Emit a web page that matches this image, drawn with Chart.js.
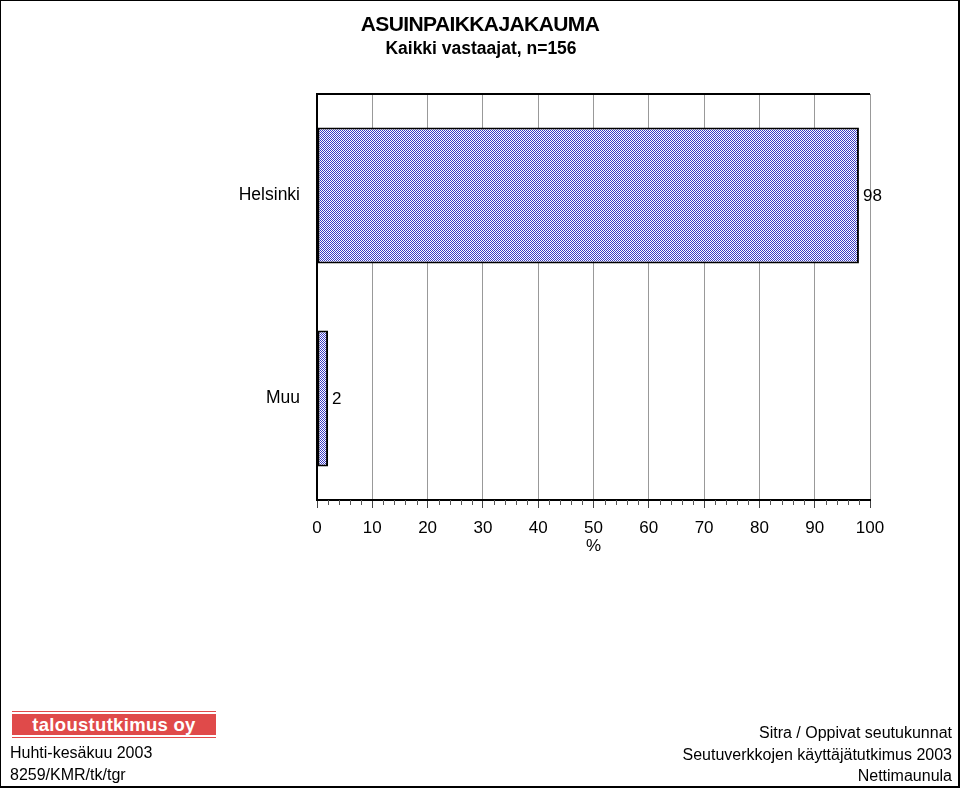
<!DOCTYPE html>
<html lang="fi">
<head>
    <meta charset="UTF-8">
    <title>Asuinpaikkajakauma</title>
    <script src="https://cdn.jsdelivr.net/npm/chart.js"></script>
    <style>
        body {
            margin: 0;
            font-family: "Liberation Sans", Arial, sans-serif;
        }
        #page {
            position: relative;
            width: 960px;
            height: 788px;
            overflow: hidden;
            background: #fff;
        }
        #frame {
            position: absolute;
            left: 0; top: 0;
            width: 957px; height: 785px;
            border: 1px solid #000;
            border-right-width: 2px;
            border-bottom-width: 2px;
            pointer-events: none;
        }
        canvas {
            position: absolute;
            left: 0;
            top: 0;
        }
        .txt {
            position: absolute;
            color: #000;
            font-size: 16px;
            white-space: nowrap;
        }
        #title {
            left: 0; width: 960px; top: 12px;
            text-align: center;
            font-size: 21px;
            font-weight: bold;
            letter-spacing: -0.6px;
        }
        #subtitle {
            left: 0; width: 962px; top: 38px;
            text-align: center;
            font-size: 17.5px;
            font-weight: bold;
        }
        #logo {
            position: absolute;
            left: 12px; top: 711px;
            width: 204px; height: 21px;
            border-top: 1px solid #e04a4a;
            border-bottom: 1px solid #e04a4a;
            padding: 2px 0;
        }
        #logo div {
            background: #e04a4a;
            color: #fff;
            height: 21px;
            line-height: 21px;
            text-align: center;
            font-weight: bold;
            font-size: 18.5px;
            letter-spacing: 0.3px;
        }
        .right {
            right: 8px;
            text-align: right;
        }
    </style>
    <script>
        // chart data
        const categories = ['Helsinki', 'Muu'];
        const shares = [98, 2];
        const xTicks = [0, 10, 20, 30, 40, 50, 60, 70, 80, 90, 100];

        function makePattern() {
            const p = document.createElement('canvas');
            p.width = 2;
            p.height = 2;
            const c = p.getContext('2d');
            c.fillStyle = '#ffffff';
            c.fillRect(0, 0, 2, 2);
            c.fillStyle = '#3a3ac4';
            c.fillRect(0, 0, 1, 1);
            c.fillRect(1, 1, 1, 1);
            return c.createPattern(p, 'repeat');
        }

        // top border line + minor ticks under the x axis
        const framePlugin = {
            id: 'framePlugin',
            afterDraw(chart) {
                const ctx = chart.ctx;
                const area = chart.chartArea;
                const x = chart.scales.x;
                ctx.save();
                ctx.strokeStyle = '#000';
                ctx.lineWidth = 2;
                ctx.beginPath();
                ctx.moveTo(area.left - 1, area.top);
                ctx.lineTo(area.right, area.top);
                ctx.stroke();
                ctx.lineWidth = 1;
                ctx.strokeStyle = '#555';
                for (let v = 2; v < 100; v += 2) {
                    if (v % 10 === 0) continue;
                    const px = Math.round(x.getPixelForValue(v)) + 0.5;
                    ctx.beginPath();
                    ctx.moveTo(px, area.bottom);
                    ctx.lineTo(px, area.bottom + 5);
                    ctx.stroke();
                }
                ctx.restore();
            }
        };

        // value labels right of the bars
        const valuePlugin = {
            id: 'valuePlugin',
            afterDatasetsDraw(chart) {
                const ctx = chart.ctx;
                const meta = chart.getDatasetMeta(0);
                ctx.save();
                ctx.font = '17px "Liberation Sans", Arial, sans-serif';
                ctx.fillStyle = '#000';
                ctx.textAlign = 'left';
                ctx.textBaseline = 'middle';
                meta.data.forEach((bar, i) => {
                    ctx.fillText(String(shares[i]), bar.x + 4, bar.y + 1);
                });
                ctx.restore();
            }
        };

        window.onload = function() {
            const ctx = document.getElementById('chart').getContext('2d');
            new Chart(ctx, {
                type: 'bar',
                data: {
                    labels: categories,
                    datasets: [{
                        data: shares,
                        backgroundColor: makePattern(),
                        borderColor: '#000',
                        borderWidth: 2,
                        borderSkipped: false,
                        barPercentage: 0.67,
                        categoryPercentage: 1
                    }]
                },
                options: {
                    indexAxis: 'y',
                    responsive: false,
                    animation: false,
                    devicePixelRatio: 1,
                    layout: {
                        padding: { top: 94, right: 90, bottom: 231, left: 0 }
                    },
                    plugins: {
                        legend: { display: false },
                        tooltip: { enabled: false }
                    },
                    scales: {
                        x: {
                            type: 'linear',
                            min: 0,
                            max: 100,
                            afterFit: s => { s.height = 57; },
                            afterBuildTicks: s => { s.ticks = xTicks.map(v => ({ value: v })); },
                            ticks: {
                                color: '#000',
                                padding: 10,
                                font: { family: '"Liberation Sans", Arial, sans-serif', size: 17 }
                            },
                            grid: {
                                color: c => c.tick && c.tick.value === 0 ? '#000' : '#999',
                                tickColor: '#444',
                                tickLength: 8,
                                lineWidth: 1
                            },
                            border: { color: '#000', width: 2 },
                            title: {
                                display: true,
                                text: '%',
                                color: '#000',
                                padding: { top: 0, bottom: 0 },
                                font: { family: '"Liberation Sans", Arial, sans-serif', size: 17 }
                            }
                        },
                        y: {
                            afterFit: s => { s.width = 317; },
                            ticks: {
                                color: '#000',
                                padding: 9,
                                font: { family: '"Liberation Sans", Arial, sans-serif', size: 17.5 }
                            },
                            grid: { display: false },
                            border: { color: '#000', width: 2 }
                        }
                    }
                },
                plugins: [framePlugin, valuePlugin]
            });
        };
    </script>
</head>
<body>
<div id="page">
    <canvas id="chart" width="960" height="788"></canvas>
    <div class="txt" id="title">ASUINPAIKKAJAKAUMA</div>
    <div class="txt" id="subtitle">Kaikki vastaajat, n=156</div>
    <div id="logo"><div>taloustutkimus oy</div></div>
    <div class="txt" style="left:10px; top:744px;">Huhti-kesäkuu 2003</div>
    <div class="txt" style="left:10px; top:766px;">8259/KMR/tk/tgr</div>
    <div class="txt right" style="top:724px;">Sitra / Oppivat seutukunnat</div>
    <div class="txt right" style="top:746px;">Seutuverkkojen käyttäjätutkimus 2003</div>
    <div class="txt right" style="top:767px;">Nettimaunula</div>
    <div id="frame"></div>
</div>
</body>
</html>
